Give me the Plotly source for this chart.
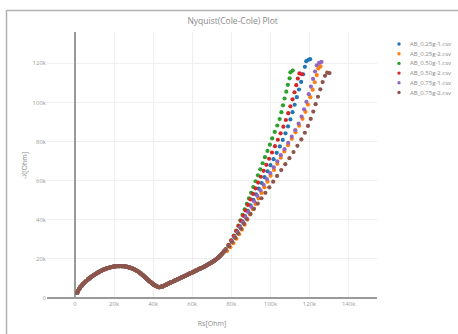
import plotly.graph_objects as go

# 모든 값은 kOhm 단위로 그림에서 읽은 값이다.
# 반원과 초반 상승 구간은 여섯 시료가 거의 겹쳐서 공통으로 둔다.
arc_rs = [1.2, 1.6, 2.1, 2.7, 3.4, 4.1, 4.9, 5.8, 6.7, 7.2,
          7.7, 8.25, 8.8, 9.35, 9.9, 10.5, 11.1, 11.7, 12.3, 12.95,
          13.6, 14.25, 14.9, 15.6, 16.3, 17.0, 17.7, 18.45, 19.2, 19.95,
          20.7, 21.45, 22.2, 22.95, 23.7, 24.45, 25.2, 25.95, 26.7, 27.4,
          28.1, 28.8, 29.5, 30.15, 30.8, 31.4, 32.0, 32.6, 33.2, 33.75,
          34.3, 34.8, 35.3, 35.8, 36.3, 36.8, 37.3, 37.8, 38.3, 38.8,
          39.3, 39.8, 40.3, 40.8, 41.3, 41.8, 42.3, 42.8, 43.3, 43.9,
          44.5, 45.15, 45.8, 46.45, 47.1, 47.8, 48.5, 49.2, 49.9, 50.6,
          51.3, 52.0, 52.7, 53.4, 54.1, 54.8, 55.5, 56.2, 56.9, 57.6,
          58.3, 59.0, 59.7, 60.4, 61.1, 61.8, 62.5, 63.2, 63.9, 64.6,
          65.3, 66.0, 66.7, 67.35, 68.0, 68.65, 69.3, 69.95, 70.6, 71.2,
          71.8, 72.4, 73.0, 73.55, 74.1, 74.6, 75.1, 75.6, 76.1]
arc_x = [2.7, 3.6, 4.5, 5.4, 6.3, 7.1, 7.9, 8.7, 9.5, 9.9,
         10.3, 10.7, 11.1, 11.5, 11.9, 12.25, 12.6, 12.95, 13.3, 13.65,
         14.0, 14.3, 14.6, 14.85, 15.1, 15.35, 15.6, 15.75, 15.9, 16.05,
         16.2, 16.25, 16.3, 16.3, 16.3, 16.25, 16.2, 16.05, 15.9, 15.7,
         15.5, 15.25, 15.0, 14.7, 14.4, 14.05, 13.7, 13.3, 12.9, 12.45,
         12.0, 11.55, 11.1, 10.65, 10.2, 9.75, 9.3, 8.85, 8.4, 8.0,
         7.6, 7.2, 6.8, 6.5, 6.2, 5.95, 5.7, 5.6, 5.5, 5.65,
         5.8, 6.1, 6.4, 6.7, 7.0, 7.35, 7.7, 8.0, 8.3, 8.65,
         9.0, 9.3, 9.6, 9.95, 10.3, 10.6, 10.9, 11.25, 11.6, 11.95,
         12.3, 12.6, 12.9, 13.25, 13.6, 13.95, 14.3, 14.65, 15.0, 15.3,
         15.6, 15.95, 16.3, 16.7, 17.1, 17.45, 17.8, 18.2, 18.6, 19.0,
         19.4, 19.9, 20.4, 20.9, 21.4, 21.95, 22.5, 23.1, 23.7]

# 확산 꼬리 구간 (시료별)
tail_025_1_rs = [77.0, 78.6, 80.1, 81.6, 83.0, 84.4, 85.7, 87.0, 88.4, 89.8,
                 91.2, 92.6, 94.0, 95.5, 97.0, 98.5, 100.0, 101.6, 103.2, 104.8,
                 106.3, 107.7, 109.0, 110.2, 111.3, 112.4, 113.5, 114.6, 115.7, 116.7,
                 117.6, 118.3, 119.4, 120.3]
tail_025_1_x = [24.6, 26.8, 29.1, 31.5, 34.0, 36.6, 39.2, 41.9, 44.6, 47.4,
                50.2, 53.0, 55.9, 58.8, 61.8, 64.8, 67.9, 71.0, 74.2, 77.5,
                80.8, 84.2, 87.7, 91.3, 95.0, 98.8, 102.7, 106.6, 110.5, 114.4,
                118.2, 121.1, 121.8, 122.1]

tail_025_2_rs = [77.8, 79.5, 81.1, 82.6, 84.0, 85.4, 86.8, 88.2, 89.6, 91.0,
                 92.4, 93.9, 95.4, 96.9, 98.5, 100.1, 101.8, 103.5, 105.3, 107.1,
                 109.0, 110.9, 112.8, 114.7, 116.4, 117.9, 119.2, 120.4, 121.6, 122.7,
                 123.7, 124.5, 125.6]
tail_025_2_x = [24.0, 26.0, 28.1, 30.3, 32.6, 35.0, 37.5, 40.1, 42.7, 45.4,
                48.1, 50.9, 53.7, 56.6, 59.5, 62.5, 65.5, 68.6, 71.7, 74.9,
                78.1, 81.4, 84.7, 88.1, 91.6, 95.2, 98.9, 102.7, 106.5, 110.3,
                114.0, 117.4, 118.4]

tail_050_1_rs = [77.1, 78.6, 80.0, 81.3, 82.5, 83.6, 84.6, 85.7, 86.8, 87.9,
                 89.0, 90.1, 91.2, 92.4, 93.6, 94.8, 96.0, 97.2, 98.5, 99.7,
                 100.9, 102.2, 103.5, 104.7, 105.6, 106.4, 107.2, 108.1, 108.9, 109.8,
                 110.2, 111.4]
tail_050_1_x = [25.0, 27.2, 29.5, 31.9, 34.4, 37.0, 39.7, 42.5, 45.3, 48.1,
                50.9, 53.8, 56.7, 59.7, 62.7, 65.8, 68.9, 72.0, 75.2, 78.4,
                81.6, 84.9, 88.2, 91.5, 95.0, 98.5, 102.0, 105.5, 109.0, 112.3,
                115.4, 116.3]

tail_050_2_rs = [77.0, 78.5, 79.9, 81.2, 82.5, 83.7, 84.9, 86.1, 87.3, 88.5,
                 89.8, 91.1, 92.4, 93.7, 95.1, 96.5, 97.9, 99.3, 100.8, 102.3,
                 103.8, 105.2, 106.6, 107.9, 109.1, 110.2, 111.3, 112.3, 113.2, 114.0,
                 114.8, 116.1]
tail_050_2_x = [24.8, 27.0, 29.3, 31.7, 34.2, 36.8, 39.4, 42.1, 44.8, 47.6,
                50.4, 53.2, 56.1, 59.0, 62.0, 65.0, 68.1, 71.2, 74.4, 77.6,
                80.9, 84.2, 87.6, 91.0, 94.5, 98.0, 101.6, 105.2, 108.8, 112.2,
                114.8, 114.4]

tail_075_1_rs = [77.0, 78.6, 80.2, 81.7, 83.1, 84.5, 85.9, 87.3, 88.7, 90.2,
                 91.7, 93.3, 94.9, 96.5, 98.2, 99.9, 101.7, 103.5, 105.3, 107.2,
                 109.1, 110.9, 112.7, 114.4, 115.9, 117.2, 118.4, 119.6, 120.7, 121.8,
                 122.8, 123.7, 124.9, 126.1]
tail_075_1_x = [24.5, 26.6, 28.8, 31.1, 33.5, 36.0, 38.6, 41.2, 43.9, 46.6,
                49.4, 52.2, 55.0, 57.9, 60.8, 63.8, 66.8, 69.9, 73.0, 76.1,
                79.3, 82.5, 85.8, 89.2, 92.8, 96.5, 100.3, 104.2, 108.1, 112.0,
                115.8, 119.0, 120.2, 120.7]

tail_075_2_rs = [77.1, 78.8, 80.4, 82.0, 83.5, 85.0, 86.5, 88.0, 89.8, 91.6,
                 93.5, 95.4, 97.4, 99.4, 101.4, 103.4, 105.5, 107.6, 109.7, 111.8,
                 113.8, 115.8, 117.6, 119.2, 120.6, 121.9, 123.1, 124.3, 125.5, 126.7,
                 127.9, 129.0, 130.2]
tail_075_2_x = [24.4, 26.4, 28.5, 30.7, 33.0, 35.4, 37.9, 40.4, 43.0, 45.6,
                48.3, 51.0, 53.8, 56.6, 59.5, 62.4, 65.4, 68.4, 71.5, 74.6,
                77.8, 81.1, 84.5, 88.0, 91.6, 95.3, 99.1, 102.9, 106.7, 110.4,
                113.6, 115.2, 115.0]

file_names = ["AB_0.25g-1.csv", "AB_0.25g-2.csv", "AB_0.50g-1.csv",
              "AB_0.50g-2.csv", "AB_0.75g-1.csv", "AB_0.75g-2.csv"]
tails = [(tail_025_1_rs, tail_025_1_x), (tail_025_2_rs, tail_025_2_x),
         (tail_050_1_rs, tail_050_1_x), (tail_050_2_rs, tail_050_2_x),
         (tail_075_1_rs, tail_075_1_x), (tail_075_2_rs, tail_075_2_x)]
COLORS = ["#1f77b4", "#ff7f0e", "#2ca02c", "#d62728", "#9467bd", "#8c564b"]
TEXT_COLOR = "#8a8a8a"

# 플롯 영역 픽셀 크기 (범례/테두리 위치를 paper 좌표로 바꿀 때 사용)
W, H = 458, 334
L, R, T, B = 47, 81, 32, 35
PW, PH = W - L - R, H - T - B


def px_to_paper(px, py):
    return (px - L) / PW, (H - B - py) / PH


fig = go.Figure()
for name, (t_rs, t_x), color in zip(file_names, tails, COLORS):
    rs = [v * 1000 for v in arc_rs + t_rs]
    xim = [v * 1000 for v in arc_x + t_x]
    fig.add_trace(go.Scatter(x=rs, y=xim, mode="markers", name=name,
                             marker=dict(color=color, size=4.2)))

axis_style = dict(gridcolor="#efefef", zeroline=True, zerolinecolor="#9a9a9a",
                  zerolinewidth=1.5, showline=False, ticks="", automargin=False,
                  tickfont=dict(size=6, color="#9a9a9a"))
fig.update_xaxes(range=[-14300, 154500], dtick=20000,
                 title=dict(text="Rs[Ohm]", font=dict(size=7, color=TEXT_COLOR),
                            standoff=14),
                 **axis_style)
fig.update_yaxes(range=[-510, 136000], dtick=20000,
                 title=dict(text="-X[Ohm]", font=dict(size=7, color=TEXT_COLOR),
                            standoff=4),
                 **axis_style)

# 범례: plotly 기본 범례는 항목 간격이 너무 넓어 원본처럼 촘촘하게 직접 그린다.
for i, (name, color) in enumerate(zip(file_names, COLORS)):
    cx, cy = px_to_paper(399, 44 + 9.7 * i)
    rx, ry = 1.7 / PW, 1.7 / PH
    fig.add_shape(type="circle", xref="paper", yref="paper",
                  x0=cx - rx, x1=cx + rx, y0=cy - ry, y1=cy + ry,
                  fillcolor=color, line=dict(width=0))
    tx, _ = px_to_paper(408, 0)
    fig.add_annotation(text=name, xref="paper", yref="paper", x=tx, y=cy,
                       xanchor="left", yanchor="middle", showarrow=False,
                       font=dict(size=6, color=TEXT_COLOR))

# 스크린샷 테두리 (위/왼쪽 회색 선)
left, top = px_to_paper(6.5, 10.5)
right, bottom = px_to_paper(W, H)
fig.add_shape(type="line", xref="paper", yref="paper", x0=left, x1=right,
              y0=top, y1=top, line=dict(color="#b0b0b0", width=1.5))
fig.add_shape(type="line", xref="paper", yref="paper", x0=left, x1=left,
              y0=top, y1=bottom, line=dict(color="#b0b0b0", width=1.5))

fig.update_layout(
    width=W, height=H,
    title=dict(text="Nyquist(Cole-Cole) Plot", x=0.508, y=1 - 21.5 / H,
               xanchor="center", yanchor="middle",
               font=dict(size=8.5, color=TEXT_COLOR)),
    font=dict(family="Open Sans", color=TEXT_COLOR),
    paper_bgcolor="white", plot_bgcolor="white",
    margin=dict(l=L, r=R, t=T, b=B),
    showlegend=False,
)

# 페이지 기본 여백(8px) 때문에 그림이 밀리지 않도록 body 여백을 없앤다.
fig.write_html("out.html", config={"displayModeBar": False},
               post_script="document.body.style.margin = '0';")
